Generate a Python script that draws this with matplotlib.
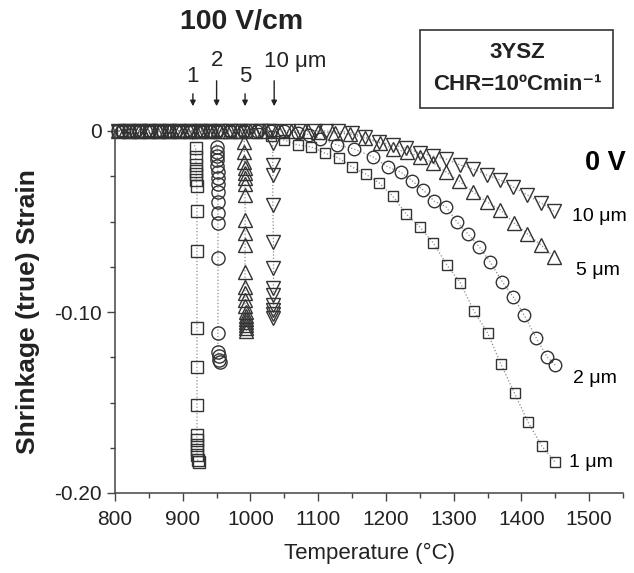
import matplotlib
matplotlib.use('Agg')
import matplotlib.pyplot as plt
from matplotlib.patches import Rectangle
from matplotlib.ticker import MultipleLocator, FixedLocator

plt.rcParams['font.family'] = ['Liberation Sans', 'DejaVu Sans']

# ---- 0 V (conventional sintering) ----
t_1um_0V = [810, 830, 850, 870, 890, 910, 930, 950, 970, 990, 1010, 1030, 1050,
            1070, 1090, 1110, 1130, 1150, 1170, 1190, 1210, 1230, 1250, 1270, 1290,
            1310, 1330, 1350, 1370, 1390, 1410, 1430, 1450]
s_1um_0V = [0, 0, 0, 0, 0, 0, 0, 0, 0, 0, -0.001, -0.003, -0.005,
            -0.0077, -0.0088, -0.0122, -0.0149, -0.0199, -0.0238, -0.0287, -0.0359, -0.0459, -0.0530, -0.0619, -0.0740,
            -0.0840, -0.0995, -0.1115, -0.1290, -0.1450, -0.1610, -0.1740, -0.1830]

t_2um_0V = [810, 830, 850, 870, 890, 910, 930, 950, 970, 990, 1010, 1030, 1050, 1070, 1087,
            1103, 1128, 1153, 1181, 1203, 1222, 1239, 1255, 1271, 1289, 1305, 1321, 1338,
            1354, 1372, 1388, 1404, 1422, 1438, 1450]
s_2um_0V = [0, 0, 0, 0, 0, 0, 0, 0, 0, 0, 0, 0, 0, -0.001, -0.002,
            -0.0044, -0.0077, -0.0099, -0.0144, -0.0199, -0.0227, -0.0276, -0.0326, -0.0387, -0.0420, -0.0503, -0.0569, -0.0641,
            -0.0724, -0.0834, -0.0917, -0.1017, -0.1144, -0.1249, -0.1293]

t_5um_0V = [820, 840, 860, 880, 900, 920, 940, 960, 980, 1000, 1020, 1040, 1060, 1080,
            1100, 1125, 1147, 1169, 1191, 1211, 1231, 1251, 1270, 1289, 1308, 1329, 1349,
            1369, 1389, 1409, 1429, 1448]
s_5um_0V = [0, 0, 0, 0, 0, 0, 0, 0, 0, 0, 0, 0, 0, 0,
            -0.0006, -0.0011, -0.0017, -0.0039, -0.0066, -0.0099, -0.0116, -0.0144, -0.0177, -0.0227, -0.0276, -0.0337, -0.0392,
            -0.0436, -0.0508, -0.0569, -0.0630, -0.0696]

t_10um_0V = [815, 835, 855, 875, 895, 915, 935, 955, 975, 995, 1015, 1035, 1055, 1075, 1095, 1112,
             1129, 1150, 1169, 1190, 1211, 1230, 1250, 1270, 1289, 1310, 1329, 1349, 1369, 1388,
             1409, 1429, 1448]
s_10um_0V = [0, 0, 0, 0, 0, 0, 0, 0, 0, 0, 0, 0, 0, 0, 0, 0,
             0, -0.0011, -0.0033, -0.0061, -0.0077, -0.0094, -0.0122, -0.0138, -0.0155, -0.0188, -0.0210, -0.0243, -0.0271, -0.0309,
             -0.0354, -0.0398, -0.0442]

# ---- 100 V/cm (flash sintering) ----
t_1um_E = [805, 820, 835, 850, 865, 880, 895, 910,
           919, 919, 920, 920, 920, 920, 921, 921, 921, 921, 921, 921, 921, 921, 921, 921, 921, 922, 924]
s_1um_E = [0, 0, 0, 0, 0, 0, 0, 0,
           -0.0094, -0.0144, -0.0188, -0.0221, -0.0238, -0.0271, -0.0304, -0.0442, -0.0663, -0.1088, -0.1304,
           -0.1514, -0.1680, -0.1707, -0.1735, -0.1762, -0.1790, -0.1818, -0.1830]

t_2um_E = [805, 820, 835, 850, 865, 880, 895, 910, 925, 940,
           951, 951, 951, 951, 951, 952, 952, 952, 952, 952, 952, 952, 952, 952, 952, 953, 954, 955]
s_2um_E = [0, 0, 0, 0, 0, 0, 0, 0, 0, 0,
           -0.0088, -0.0116, -0.0138, -0.0160, -0.0193, -0.0227, -0.0260, -0.0293, -0.0337, -0.0392, -0.0453,
           -0.0508, -0.0702, -0.1116, -0.1221, -0.1243, -0.1265, -0.1276]

t_5um_E = [805, 820, 835, 850, 865, 880, 895, 910, 925, 940, 955, 970, 985,
           991, 991, 991, 992, 992, 992, 992, 992, 992, 992, 992, 992, 992, 992, 992, 992, 993, 993, 993, 993, 993, 994, 994]
s_5um_E = [0, 0, 0, 0, 0, 0, 0, 0, 0, 0, 0, 0, 0,
           -0.0061, -0.0116, -0.0171, -0.0204, -0.0232, -0.0260, -0.0293, -0.0354, -0.0492, -0.0564, -0.0630, -0.0779,
           -0.0862, -0.0895, -0.0934, -0.0967, -0.1000, -0.1022, -0.1039, -0.1055, -0.1072, -0.1088, -0.1105]

t_10um_E = [805, 820, 835, 850, 865, 880, 895, 910, 925, 940, 955, 970, 985, 1000, 1015, 1028,
            1033, 1033, 1033, 1033, 1034, 1034, 1034, 1034, 1034, 1034, 1034, 1034]
s_10um_E = [0, 0, 0, 0, 0, 0, 0, 0, 0, 0, 0, 0, 0, 0, 0, 0,
            -0.0066, -0.0188, -0.0243, -0.0409, -0.0613, -0.0757, -0.0867, -0.0906, -0.0961, -0.0989, -0.1011, -0.1033]

arrow_T = [915, 950, 992, 1035]
arrow_lbl = ['1', '2', '5', '10 \u03bcm']

W, H = 634, 573
fig = plt.figure(figsize=(W / 100, H / 100), dpi=100)
ax = fig.add_axes([115 / W, 80 / H, 508 / W, 362 / H])

edge = '#333333'
lnc = '#8a8a8a'
style = dict(linestyle=':', color=lnc, lw=0.9, mfc='none', mec=edge, mew=1.0, clip_on=False)

ax.plot(t_1um_0V, s_1um_0V, marker='s', ms=7, **style)
ax.plot(t_2um_0V, s_2um_0V, marker='o', ms=9, **style)
ax.plot(t_5um_0V, s_5um_0V, marker='^', ms=10, **style)
ax.plot(t_10um_0V, s_10um_0V, marker='v', ms=10, **style)

ax.plot(t_1um_E, s_1um_E, marker='s', ms=8.5, **style)
ax.plot(t_2um_E, s_2um_E, marker='o', ms=9.5, **style)
ax.plot(t_5um_E, s_5um_E, marker='^', ms=10.5, **style)
ax.plot(t_10um_E, s_10um_E, marker='v', ms=10.5, **style)

ax.set_xlim(800, 1550)
ax.set_ylim(-0.20, 0)
ax.xaxis.set_major_locator(FixedLocator([800, 900, 1000, 1100, 1200, 1300, 1400, 1500]))
ax.xaxis.set_minor_locator(MultipleLocator(50))
ax.set_yticks([0, -0.10, -0.20])
ax.set_yticklabels(['0', '-0.10', '-0.20'])
ax.yaxis.set_minor_locator(MultipleLocator(0.025))
ax.tick_params(which='major', length=5.5, width=1, color='#444444', labelsize=15,
               labelcolor='#222222', pad=4)
ax.tick_params(axis='x', which='major', pad=7)
ax.tick_params(which='minor', length=3.5, width=1, color='#444444')
for s in ['top', 'right']:
    ax.spines[s].set_visible(False)
for s in ['left', 'bottom']:
    ax.spines[s].set_color('#444444')
    ax.spines[s].set_linewidth(1.1)

ax.set_xlabel('Temperature (\u00b0C)', fontsize=16, color='#222222', labelpad=10)
ax.set_ylabel('Shrinkage (true) Strain', fontsize=19, fontweight='bold', color='#222222', labelpad=10)

# labels on the right for 0 V curves
ax.text(1494, -0.0177, '0 V', fontsize=19.5, fontweight='bold', va='center', ha='left', clip_on=False)
ax.text(1475, -0.0475, '10 \u03bcm', fontsize=14, va='center', ha='left', clip_on=False)
ax.text(1481, -0.0768, '5 \u03bcm', fontsize=14, va='center', ha='left', clip_on=False)
ax.text(1476, -0.1365, '2 \u03bcm', fontsize=14, va='center', ha='left', clip_on=False)
ax.text(1470, -0.1834, '1 \u03bcm', fontsize=14, va='center', ha='left', clip_on=False)

# 100 V/cm arrows on top
def fy(y):
    return H - y

tails = [91, 78, 91, 78]
lbl_y = [76, 61, 76, 61]
for T, lb, ty, ly in zip(arrow_T, arrow_lbl, tails, lbl_y):
    ax.annotate('', xy=(T, fy(109)), xycoords=('data', 'figure pixels'),
                xytext=(T, fy(ty)), textcoords=('data', 'figure pixels'),
                arrowprops=dict(arrowstyle='-|>', color='#222222', lw=1.0, mutation_scale=8),
                annotation_clip=False)
    ha = 'center'
    xt = T
    if lb.startswith('10'):
        ha = 'left'
        xt = T - 15
    ax.annotate(lb, xy=(xt, fy(ly)), xycoords=('data', 'figure pixels'),
                ha=ha, va='center', fontsize=16, color='#222222', annotation_clip=False)

fig.text(242 / W, 1 - 22 / H, '100 V/cm', fontsize=20.5, fontweight='bold', ha='center', va='center',
         color='#222222')

# info box
fig.add_artist(Rectangle((420 / W, 1 - 108 / H), 193 / W, 78 / H, transform=fig.transFigure,
                         fill=False, edgecolor='#333333', lw=1.2))
fig.text(517 / W, 1 - 53 / H, '3YSZ', fontsize=16, fontweight='bold', ha='center', va='center',
         color='#222222')
fig.text(517 / W, 1 - 85 / H, 'CHR=10\u00baCmin\u207b\u00b9', fontsize=16, fontweight='bold',
         ha='center', va='center', color='#222222')

fig.savefig('out.png', dpi=100, facecolor='white')
